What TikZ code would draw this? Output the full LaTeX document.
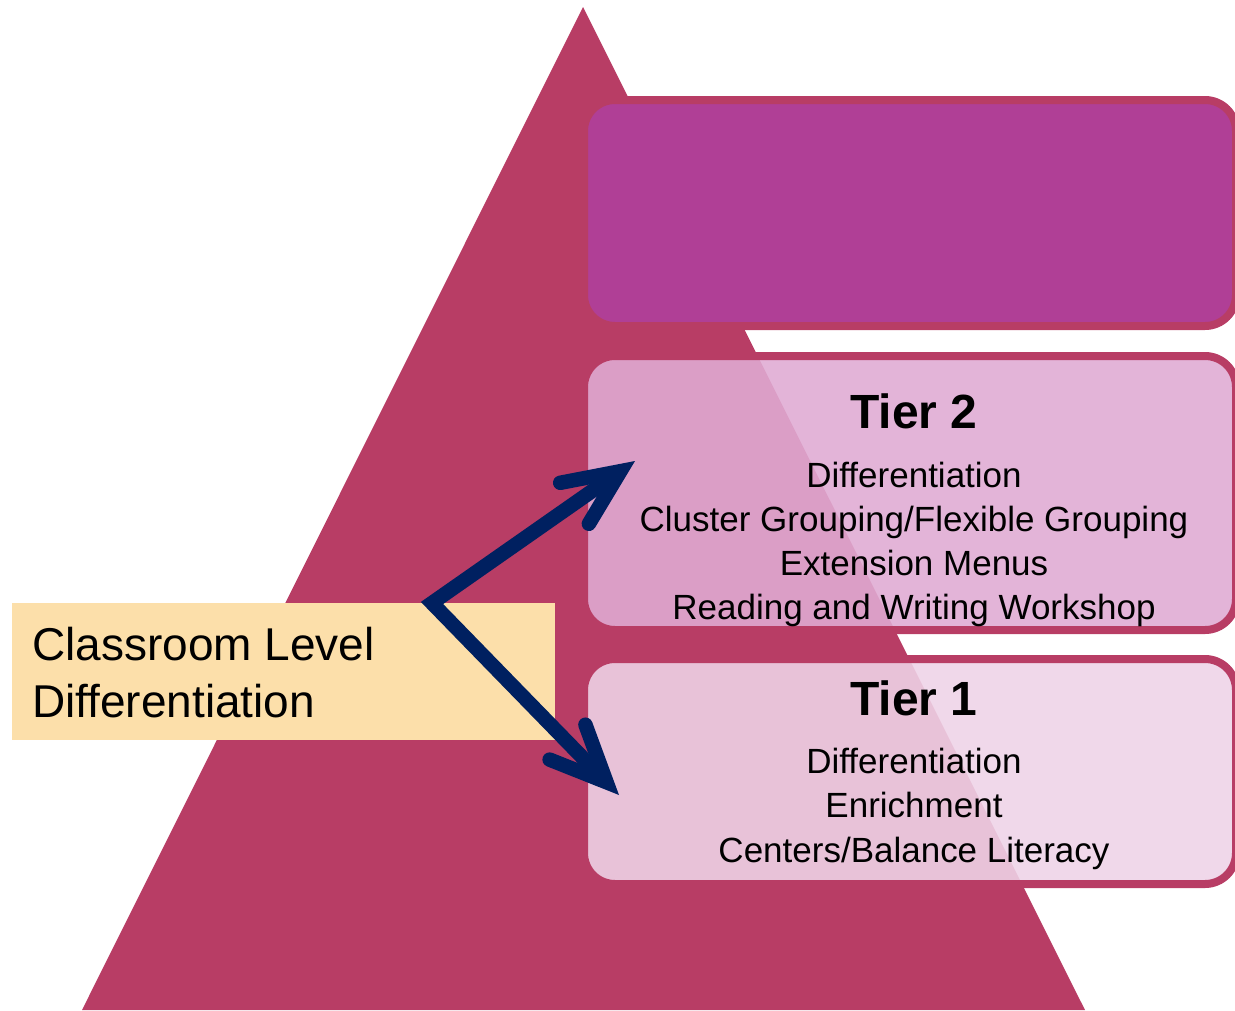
\documentclass[tikz,border=0pt]{standalone}
\usepackage{fontspec}
\setmainfont{Liberation Sans}
\usetikzlibrary{arrows.meta}
\definecolor{tri}{HTML}{B83D65}
\definecolor{topfill}{HTML}{B03F96}
\definecolor{tiertwo}{HTML}{E0ABD3}
\definecolor{tierone}{HTML}{EED3E7}
\definecolor{label}{HTML}{FCDFAA}
\definecolor{navy}{HTML}{002060}
\tikzset{
  tierbox/.style={draw=tri, line width=8pt, rounded corners=31pt},
  bodytext/.style={inner sep=0pt, anchor=base, font=\fontsize{35}{42}\selectfont},
  titletext/.style={inner sep=0pt, anchor=base, font=\fontsize{48}{56}\selectfont\bfseries},
  labeltext/.style={inner sep=0pt, anchor=base west, font=\fontsize{46}{56}\selectfont},
  navyarrow/.style={draw=navy, line width=14.5pt, line join=miter,
    {Straight Barb[length=56pt, width=50pt, line cap=round, line join=miter]}-{Straight Barb[length=56pt, width=50pt, line cap=round, line join=miter]}}
}
\begin{document}
\begin{tikzpicture}[x=1pt, y=-1pt]
\useasboundingbox (0,0) rectangle (1235,1010);
% pyramid
\fill[tri] (583,7) -- (82,1010) -- (1085,1010) -- cycle;
% boxes
\draw[tierbox, fill=topfill] (584,100) rectangle (1236,326);
\draw[tierbox, fill=tiertwo, fill opacity=0.89] (584,356) rectangle (1236,630);
\draw[tierbox, fill=tierone, fill opacity=0.89] (584,659) rectangle (1236,884);
% label box
\node[fill=label, minimum width=543pt, minimum height=137pt, inner sep=0pt, anchor=north west] (lab) at (12,603) {};
% arrows
\coordinate (v) at (432,603);
\coordinate (h2) at (635,461);
\coordinate (h1) at (619,795);
\draw[navyarrow] (h1) -- (v) -- (h2);
% texts
\node[labeltext] (l1) at (32,660) {Classroom Level};
\node[labeltext] (l2) at (32,717) {Differentiation};
\node[titletext] (t2) at (914,428) {Tier 2};
\node[bodytext] (t2a) at (914,487) {Differentiation};
\node[bodytext] (t2b) at (914,531) {Cluster Grouping/Flexible Grouping};
\node[bodytext] (t2c) at (914,575) {Extension Menus};
\node[bodytext] (t2d) at (914,619) {Reading and Writing Workshop};
\node[titletext] (t1) at (914,715) {Tier 1};
\node[bodytext] (t1a) at (914,773) {Differentiation};
\node[bodytext] (t1b) at (914,817) {Enrichment};
\node[bodytext] (t1c) at (914,862) {Centers/Balance Literacy};
\end{tikzpicture}
\end{document}
